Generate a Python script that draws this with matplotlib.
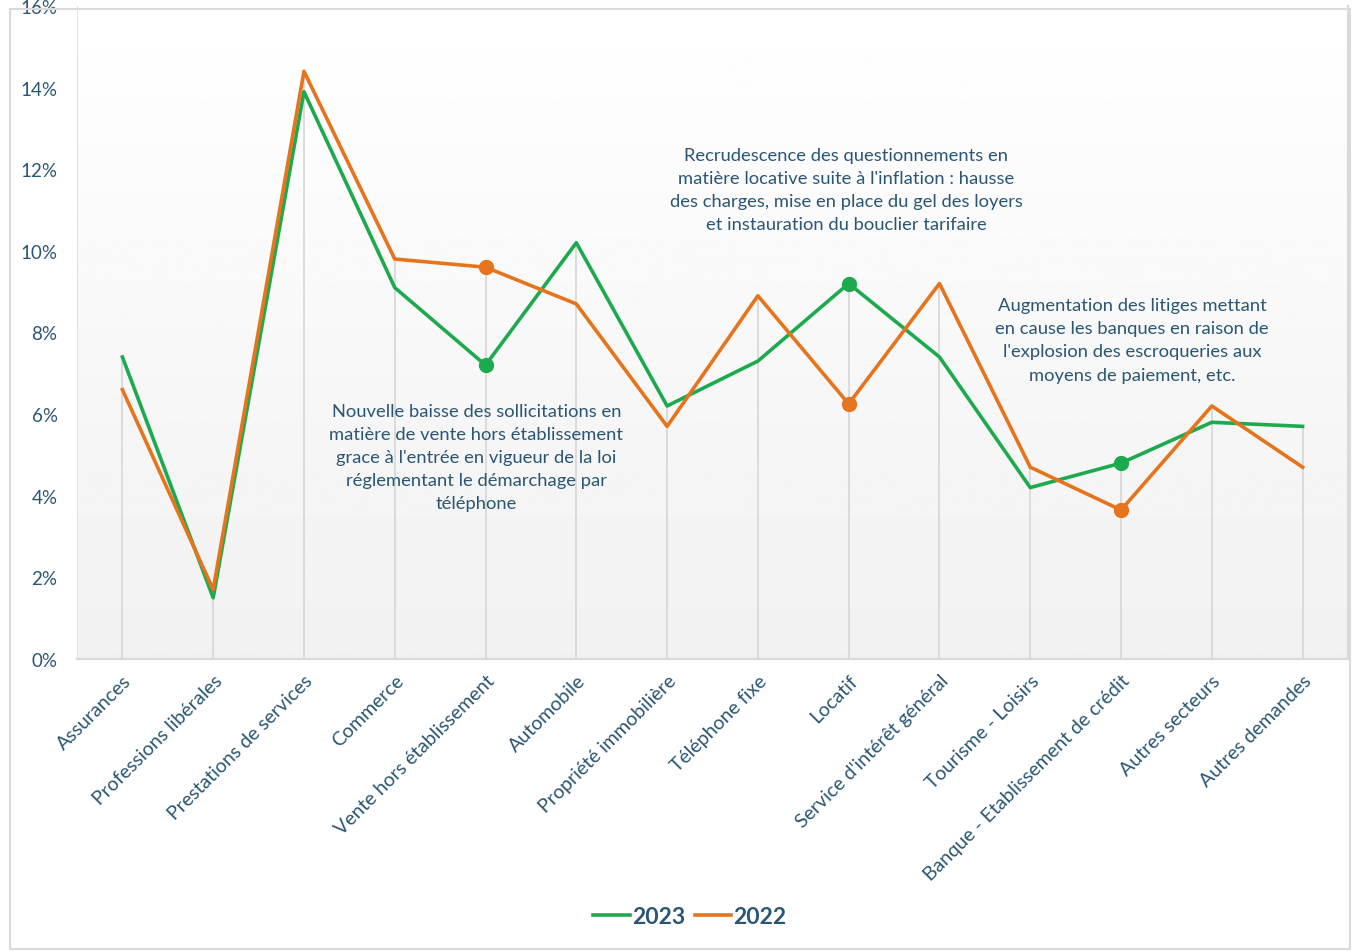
import matplotlib.pyplot as plt
import numpy as np
from matplotlib.patches import Rectangle
from matplotlib.ticker import FuncFormatter

plt.rcParams['font.family'] = ['Lato', 'DejaVu Sans']

# Data
categories = ["Assurances", "Professions libérales", "Prestations de services", "Commerce",
              "Vente hors établissement", "Automobile", "Propriété immobilière", "Téléphone fixe",
              "Locatif", "Service d'intérêt général", "Tourisme - Loisirs",
              "Banque - Etablissement de crédit", "Autres secteurs", "Autres demandes"]
values_2023 = [7.4, 1.5, 13.9, 9.1, 7.2, 10.2, 6.2, 7.3, 9.2, 7.4, 4.2, 4.8, 5.8, 5.7]
values_2022 = [6.6, 1.7, 14.4, 9.8, 9.6, 8.7, 5.7, 8.9, 6.25, 9.2, 4.7, 3.65, 6.2, 4.7]
highlight = [4, 8, 11]

green = '#1DAA4F'
orange = '#E5741C'
text_col = '#2A5674'

fig = plt.figure(figsize=(13.6, 9.53), dpi=100)
ax = fig.add_axes([77 / 1360, 1 - 660 / 953, (1348 - 77) / 1360, (660 - 7) / 953])

x = np.arange(len(categories))

# gradient background
grad = np.linspace(1.0, 0.945, 256).reshape(-1, 1)
ax.imshow(grad, cmap='gray', vmin=0, vmax=1, aspect='auto',
          extent=[-0.5, 13.5, 0, 16], origin='upper', zorder=0)

# drop lines
tops = np.maximum(values_2023, values_2022)
ax.vlines(x, 0, tops, color='#D6D6D6', lw=1.2, zorder=1)

ax.plot(x, values_2023, color=green, lw=2.6, label='2023', zorder=3)
ax.plot(x, values_2022, color=orange, lw=2.6, label='2022', zorder=3)
ax.plot(x[highlight], np.array(values_2023)[highlight], 'o', color=green, ms=10, zorder=4)
ax.plot(x[highlight], np.array(values_2022)[highlight], 'o', color=orange, ms=10, zorder=4)

ax.set_xlim(-0.5, 13.5)
ax.set_ylim(0, 16)
ax.set_yticks(np.arange(0, 17, 2))
ax.yaxis.set_major_formatter(FuncFormatter(lambda v, p: f"{v:.0f}%"))
ax.set_xticks(x)
ax.set_xticklabels(categories, rotation=45, ha='right', rotation_mode='anchor')
ax.tick_params(axis='both', length=0, labelcolor=text_col)
ax.tick_params(axis='x', pad=9, labelsize=14)
ax.tick_params(axis='y', pad=14, labelsize=13.5)
ax.spines['top'].set_visible(False)
for s in ['bottom', 'right']:
    ax.spines[s].set_color('#D9D9D9')
    ax.spines[s].set_linewidth(1.5)
ax.spines['left'].set_color('#E3E3E3')

# annotations
ann_kw = dict(ha='center', va='center', fontsize=13.2, color=text_col, linespacing=1.55)
ax.text(3.9, 4.95, "Nouvelle baisse des sollicitations en\nmatière de vente hors établissement\n"
        "grace à l'entrée en vigueur de la loi\nréglementant le démarchage par\ntéléphone", **ann_kw)
ax.text(7.97, 11.5, "Recrudescence des questionnements en\nmatière locative suite à l'inflation : hausse\n"
        "des charges, mise en place du gel des loyers\net instauration du bouclier tarifaire", **ann_kw)
ax.text(11.12, 7.82, "Augmentation des litiges mettant\nen cause les banques en raison de\n"
        "l'explosion des escroqueries aux\nmoyens de paiement, etc.", **ann_kw)

leg = fig.legend(loc='center', bbox_to_anchor=(690 / 1360, 1 - 918 / 953), ncol=2, frameon=False,
                 handlelength=1.6, handletextpad=0.1, columnspacing=0.4,
                 prop={'size': 16.5, 'weight': 'bold'})
for t in leg.get_texts():
    t.set_color(text_col)

# outer frame
fig.patches.append(Rectangle((10 / 1360, 1 - 950 / 953), 1340 / 1360, 940 / 953,
                             transform=fig.transFigure, fill=False, ec='#DADADA', lw=1.5))

fig.savefig('out.png', dpi=100)
